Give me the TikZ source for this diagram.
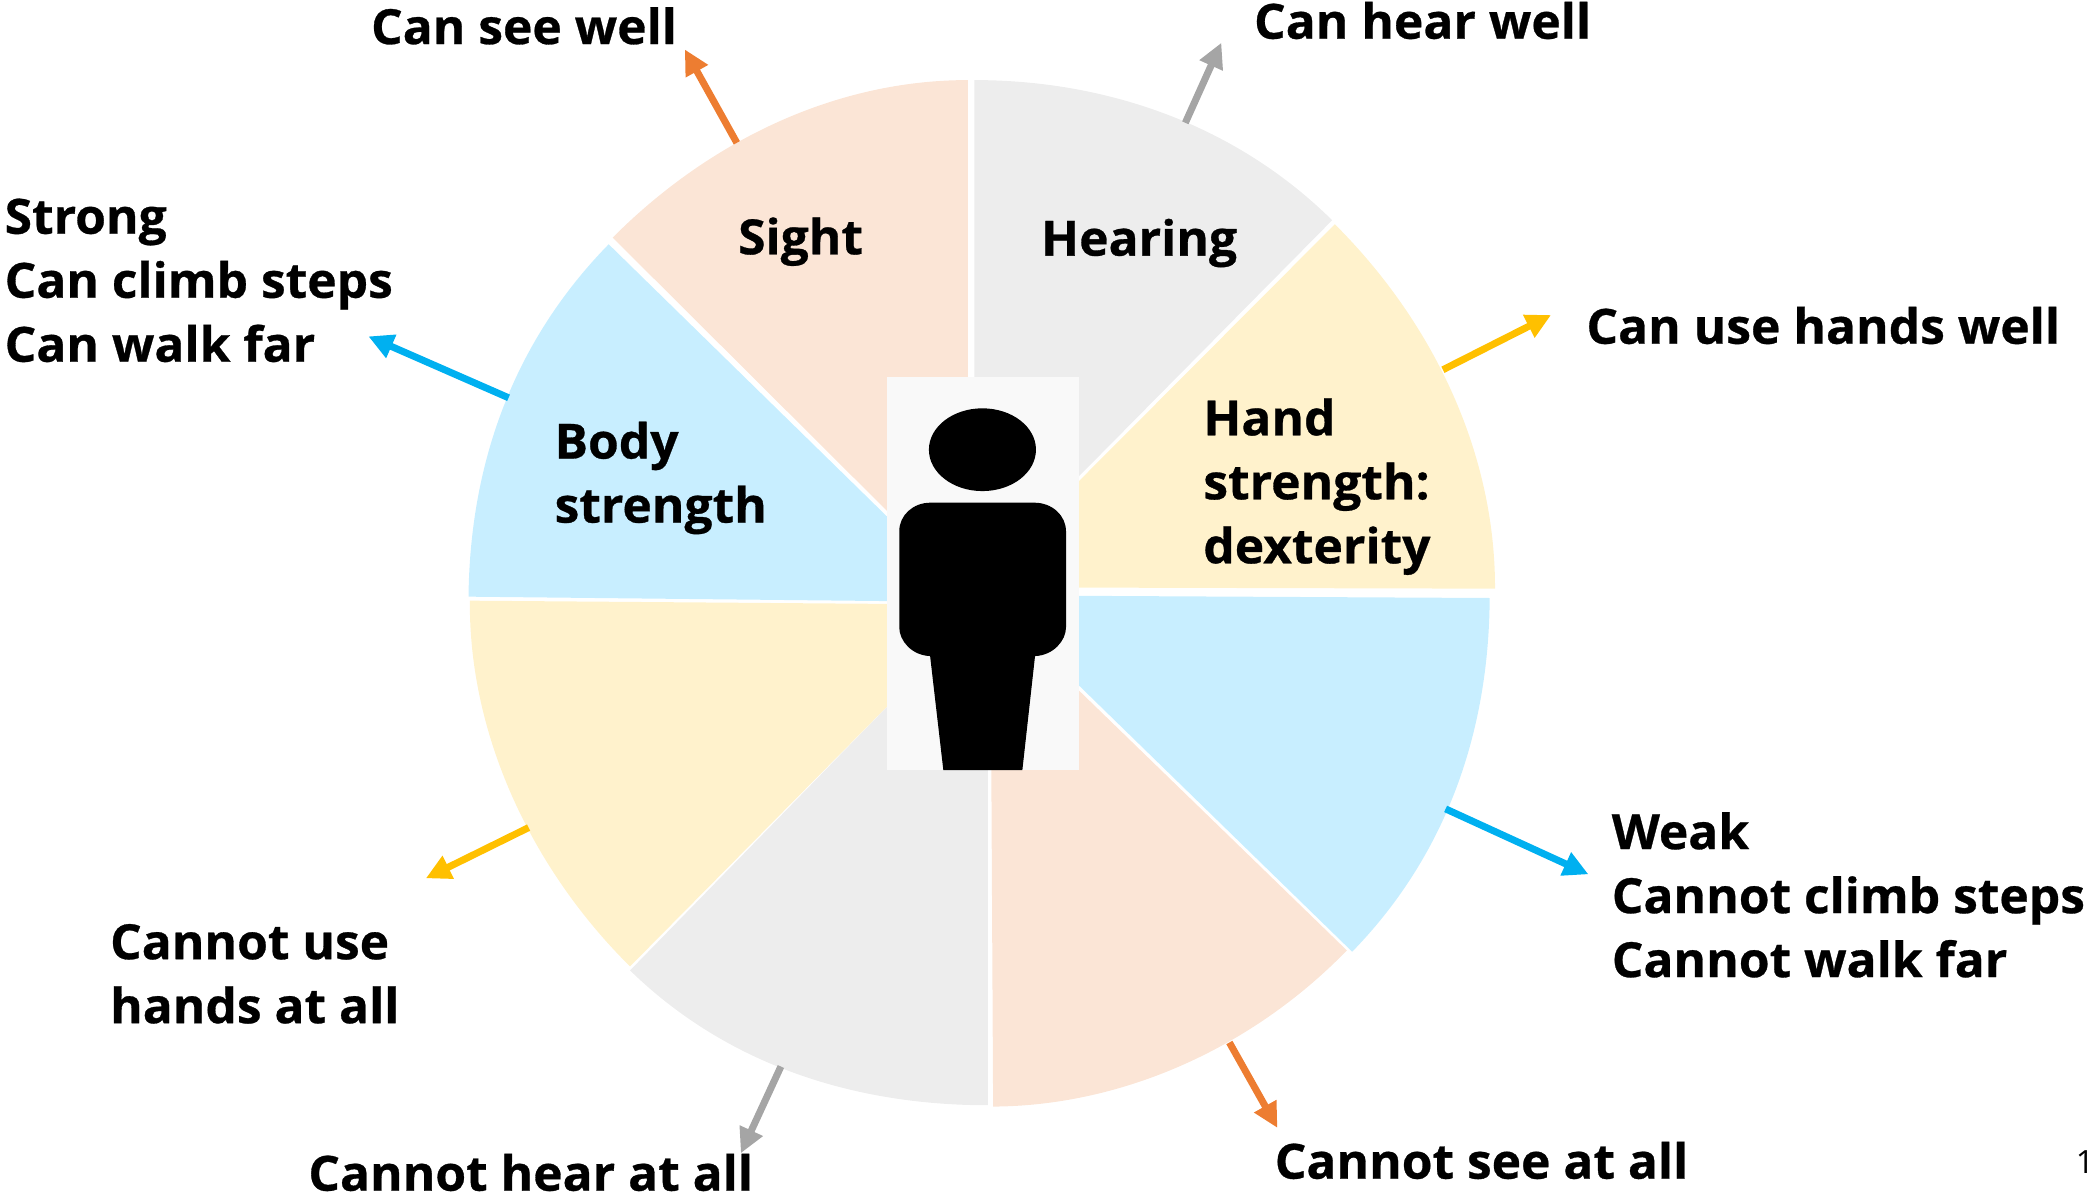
\documentclass[tikz,border=0pt]{standalone}
\usepackage{fontspec}
\setmainfont{Open Sans}
\newfontfamily\lblfont{Open Sans Bold}[FakeStretch=1.025,FakeBold=0.6]
\usetikzlibrary{arrows.meta,calc}
\definecolor{peach}{HTML}{FBE5D6}
\definecolor{lgray}{HTML}{EDEDED}
\definecolor{lyellow}{HTML}{FFF2CC}
\definecolor{lblue}{HTML}{C8EEFF}
\definecolor{aorange}{HTML}{ED7D31}
\definecolor{agray}{HTML}{A5A5A5}
\definecolor{ayellow}{HTML}{FFC000}
\definecolor{ablue}{HTML}{00B0F0}
\definecolor{photo}{HTML}{F9F9F9}
\tikzset{
  lbl/.style={anchor=base west,inner sep=0pt,outer sep=0pt,font=\fontsize{48.5}{64}\lblfont,align=left,text=black},
  arr/.style={line width=7pt,-{Triangle[length=25pt,width=24pt]}},
}
\newcommand{\wedgeshape}[4]{%
  \fill[#1] (#4) -- (#2) .. controls ($(#2)!.2652!90:(#4)$) and ($(#3)!.2652!-90:(#4)$) .. (#3) -- cycle;}
\begin{document}
\begin{tikzpicture}[x=1.33482pt,y=-1.33482pt]
\useasboundingbox (0,0) rectangle (1568,896);
% sectors
\wedgeshape{peach}{459,178}{725,60}{725,443}
\wedgeshape{lgray}{730,60}{998,165}{730,436}
\wedgeshape{lyellow}{1000,168}{1120,441}{729,440}
\wedgeshape{lblue}{1116,448}{1013,713}{739,446}
\wedgeshape{peach}{1009,712}{744,829}{742,453}
\wedgeshape{lgray}{740,828}{472,727}{740,452}
\wedgeshape{lyellow}{472,724}{352,450}{740,453}
\wedgeshape{lblue}{351,447}{456,183}{730,451}
% figure
\fill[photo] (664.5,282.4) rectangle (808.3,576.9);
\fill[black] (736,336.9) ellipse [x radius=40.1,y radius=31];
\fill[black] (696.8,491.5) .. controls (683,491) and (673.7,480) .. (673.7,470)
  -- (673.7,398) .. controls (673.7,386) and (684,376.6) .. (697,376.6)
  -- (775,376.6) .. controls (788,376.6) and (798.6,386) .. (798.6,398)
  -- (798.6,470) .. controls (798.6,480) and (789,491) .. (775.4,491.5)
  -- (765.9,576.9) -- (706.7,576.9) -- cycle;
% arrow ends
\coordinate (a1) at (552,107); \coordinate (b1) at (513,37);
\coordinate (a2) at (888,92); \coordinate (b2) at (915,32);
\coordinate (a3) at (1081,277); \coordinate (b3) at (1162,236);
\coordinate (a4) at (381,298); \coordinate (b4) at (276,252);
\coordinate (a5) at (1083,606); \coordinate (b5) at (1190,655);
\coordinate (a6) at (921,781); \coordinate (b6) at (957,845);
\coordinate (a7) at (585,799); \coordinate (b7) at (555,864);
\coordinate (a8) at (396,620); \coordinate (b8) at (319,658);
\draw[arr,aorange] (a1) -- (b1);
\draw[arr,agray] (a2) -- (b2);
\draw[arr,ayellow] (a3) -- (b3);
\draw[arr,ablue] (a4) -- (b4);
\draw[arr,ablue] (a5) -- (b5);
\draw[arr,aorange] (a6) -- (b6);
\draw[arr,agray] (a7) -- (b7);
\draw[arr,ayellow] (a8) -- (b8);
% labels
\node[lbl] (t1) at (278,33) {Can see well};
\node[lbl] (t2) at (939.5,29) {Can hear well};
\node[lbl] (t3) at (3.5,271) {Strong\\Can climb steps\\Can walk far};
\node[lbl] (t4) at (553,190.5) {Sight};
\node[lbl] (t5) at (780,191.5) {Hearing};
\node[lbl] (t6) at (1188.5,257.5) {Can use hands well};
\node[lbl] (t7) at (901.5,422) {Hand\\strength:\\dexterity};
\node[lbl] (t8) at (415.5,391.5) {Body\\strength};
\node[lbl] (t9) at (1207.5,732) {Weak\\Cannot climb steps\\Cannot walk far};
\node[lbl] (t10) at (82.5,766.5) {Cannot use\\hands at all};
\node[lbl] (t11) at (231,892) {Cannot hear at all};
\node[lbl] (t12) at (955,883) {Cannot see at all};
\node[anchor=base west,inner sep=0pt,font=\fontsize{32}{36}\selectfont] (pg) at (1555,879) {1};
\end{tikzpicture}
\end{document}
